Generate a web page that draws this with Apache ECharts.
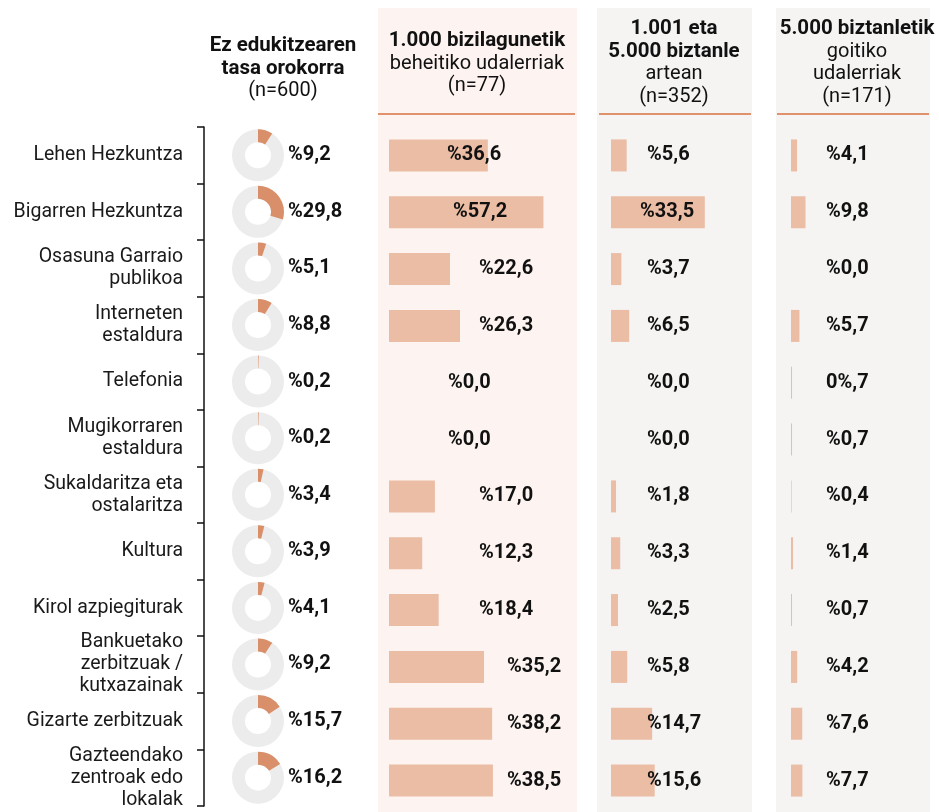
<!DOCTYPE html>
<html lang="eu">
<head>
    <meta charset="UTF-8">
    <title>udalerriak</title>
    <style>
        html,
        body {
            margin: 0;
            padding: 0;
            background: #fff;
        }
    </style>
</head>
<body>
    <div id="show" style="width: 939px; height: 812px;"></div>

    <script src="https://cdn.jsdelivr.net/npm/echarts@6/dist/echarts.min.js"></script>
    <script>
        // datuak
        var categories = [
            'Lehen Hezkuntza',
            'Bigarren Hezkuntza',
            'Osasuna Garraio\npublikoa',
            'Interneten\nestaldura',
            'Telefonia',
            'Mugikorraren\nestaldura',
            'Sukaldaritza eta\nostalaritza',
            'Kultura',
            'Kirol azpiegiturak',
            'Bankuetako\nzerbitzuak /\nkutxazainak',
            'Gizarte zerbitzuak',
            'Gazteendako\nzentroak edo\nlokalak'
        ];
        var totalRate = [9.2, 29.8, 5.1, 8.8, 0.2, 0.2, 3.4, 3.9, 4.1, 9.2, 15.7, 16.2];
        var small = [36.6, 57.2, 22.6, 26.3, 0.0, 0.0, 17.0, 12.3, 18.4, 35.2, 38.2, 38.5];
        var medium = [5.6, 33.5, 3.7, 6.5, 0.0, 0.0, 1.8, 3.3, 2.5, 5.8, 14.7, 15.6];
        var large = [4.1, 9.8, 0.0, 5.7, 0.7, 0.7, 0.4, 1.4, 0.7, 4.2, 7.6, 7.7];
        // jatorrizko irudiko etiketa berezia
        var largeLabelFix = { 4: '0%,7' };

        // etiketen kokapena (px, barraren hasieratik)
        var smallLabelDx = [58, 64, 90, 90, 59, 59, 90, 90, 90, 118, 118, 118];
        var mediumLabelDx = [36, 29, 36, 36, 36, 36, 36, 36, 36, 36, 36, 36];
        var largeLabelDx = [35, 35, 35, 35, 35, 35, 35, 35, 35, 35, 35, 35];

        var FONT = 'Roboto, "Noto Sans", sans-serif';
        var BAR = '#ebbda5';
        var ORANGE = '#d98f69';
        var RING = '#ececec';

        function fmt(v) {
            return '%' + v.toFixed(1).replace('.', ',');
        }

        var TOP = 127, H = 682;

        var myChart = echarts.init(document.querySelector('#show'));

        function hiddenX(max) {
            return {
                type: 'value', min: 0, max: max, show: false
            };
        }
        function hiddenY(i) {
            return {
                type: 'category', gridIndex: i, data: categories, inverse: true, show: false
            };
        }

        function barSeries(idx, values, dx, fix) {
            return {
                type: 'bar',
                xAxisIndex: idx,
                yAxisIndex: idx,
                barWidth: 32,
                silent: true,
                itemStyle: { color: BAR },
                data: values.map(function (v, i) {
                    return {
                        value: v,
                        label: {
                            show: true,
                            position: [dx[i], 16],
                            verticalAlign: 'middle',
                            align: 'left',
                            formatter: function () {
                                return (fix && fix[i]) ? fix[i] : fmt(v);
                            }
                        }
                    };
                }),
                label: {
                    fontFamily: FONT,
                    fontWeight: 'bold',
                    fontSize: 20,
                    color: '#111'
                }
            };
        }

        function headerText(x, y, lines) {
            return lines.map(function (l, k) {
                return {
                    type: 'text',
                    x: x,
                    y: y + k * 22.5,
                    style: {
                        text: l[0],
                        align: 'center',
                        verticalAlign: 'middle',
                        font: (l[1] ? 'bold 20.5px ' : '20px ') + FONT,
                        fill: '#111'
                    }
                };
            });
        }

        var graphics = [
            { type: 'rect', shape: { x: 378, y: 8, width: 199, height: 804 }, style: { fill: '#fdf4f1' }, z: -10 },
            { type: 'rect', shape: { x: 597, y: 8, width: 155, height: 804 }, style: { fill: '#f5f4f3' }, z: -10 },
            { type: 'rect', shape: { x: 776, y: 8, width: 154, height: 804 }, style: { fill: '#f5f4f3' }, z: -10 },
            { type: 'line', shape: { x1: 378, y1: 114, x2: 575, y2: 114 }, style: { stroke: '#e0926d', lineWidth: 2 } },
            { type: 'line', shape: { x1: 599, y1: 114, x2: 751, y2: 114 }, style: { stroke: '#e0926d', lineWidth: 2 } },
            { type: 'line', shape: { x1: 777, y1: 114, x2: 929, y2: 114 }, style: { stroke: '#e0926d', lineWidth: 2 } }
        ]
            .concat(headerText(283, 46, [['Ez edukitzearen', 1], ['tasa orokorra', 1], ['(n=600)', 0]]))
            .concat(headerText(477, 41, [['1.000 bizilagunetik', 1], ['beheitiko udalerriak', 0], ['(n=77)', 0]]))
            .concat(headerText(674, 29, [['1.001 eta', 1], ['5.000 biztanle', 1], ['artean', 0], ['(n=352)', 0]]))
            .concat(headerText(857, 29, [['5.000 biztanletik', 1], ['goitiko', 0], ['udalerriak', 0], ['(n=171)', 0]]));

        myChart.setOption({
            animation: false,
            textStyle: { fontFamily: FONT },
            graphic: graphics,
            grid: [
                { left: 204, top: TOP, width: 108, height: H },
                { left: 389, top: TOP, width: 270, height: H },
                { left: 611, top: TOP, width: 280, height: H },
                { left: 791, top: TOP, width: 290, height: H }
            ],
            xAxis: [
                { type: 'value', gridIndex: 0, min: 0, max: 108, show: false },
                Object.assign(hiddenX(100), { gridIndex: 1 }),
                Object.assign(hiddenX(100), { gridIndex: 2 }),
                Object.assign(hiddenX(100), { gridIndex: 3 })
            ],
            yAxis: [
                {
                    type: 'category',
                    gridIndex: 0,
                    data: categories,
                    inverse: true,
                    axisLine: { show: true, lineStyle: { color: '#111', width: 1.5 } },
                    axisTick: { show: true, length: 7, lineStyle: { color: '#111', width: 1.5 } },
                    axisLabel: {
                        margin: 21,
                        fontSize: 19.5,
                        lineHeight: 22,
                        color: '#1a1a1a',
                        fontFamily: FONT,
                        align: 'right',
                        padding: [3, 0, 0, 0]
                    },
                    splitLine: { show: false }
                },
                hiddenY(1),
                hiddenY(2),
                hiddenY(3)
            ],
            series: [
                {
                    type: 'custom',
                    xAxisIndex: 0,
                    yAxisIndex: 0,
                    silent: true,
                    data: totalRate.map(function (v, i) { return [54, i, v]; }),
                    renderItem: function (params, api) {
                        var p = api.coord([api.value(0), api.value(1)]);
                        var v = api.value(2);
                        var a0 = -Math.PI / 2;
                        return {
                            type: 'group',
                            children: [
                                {
                                    type: 'sector',
                                    shape: { cx: p[0], cy: p[1], r: 26, r0: 13, startAngle: 0, endAngle: Math.PI * 2 },
                                    style: { fill: RING }
                                },
                                {
                                    type: 'sector',
                                    shape: {
                                        cx: p[0], cy: p[1], r: 26, r0: 13,
                                        startAngle: a0, endAngle: a0 + Math.PI * 2 * Math.max(v, 0.4) / 100, clockwise: true
                                    },
                                    style: { fill: ORANGE }
                                },
                                {
                                    type: 'text',
                                    x: p[0] + 30,
                                    y: p[1],
                                    style: {
                                        text: fmt(v),
                                        verticalAlign: 'middle',
                                        align: 'left',
                                        font: 'bold 20px ' + FONT,
                                        fill: '#111'
                                    }
                                }
                            ]
                        };
                    }
                },
                barSeries(1, small, smallLabelDx),
                barSeries(2, medium, mediumLabelDx),
                barSeries(3, large, largeLabelDx, largeLabelFix)
            ]
        });
    </script>
</body>
</html>
